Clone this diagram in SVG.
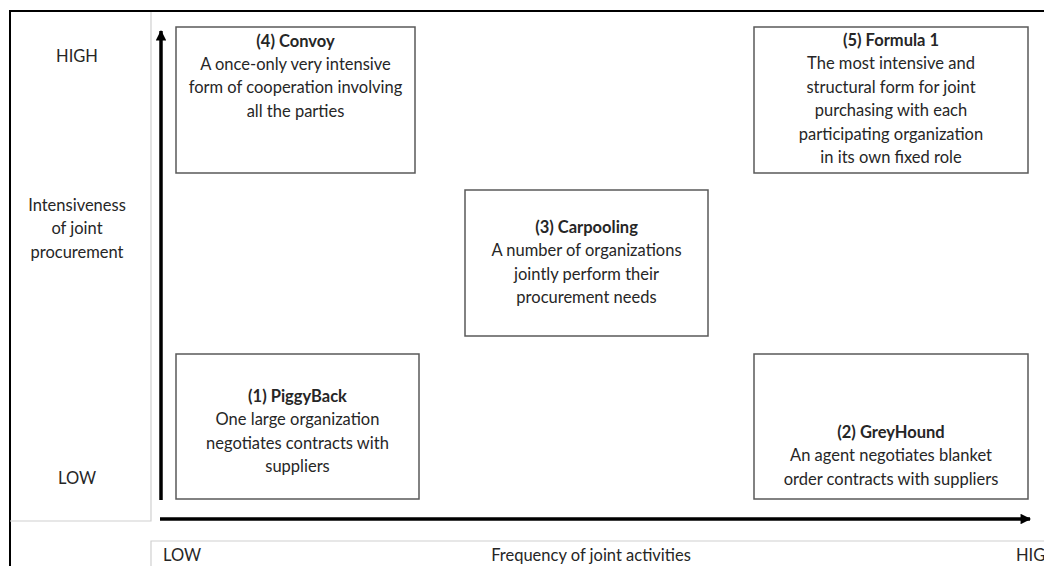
<svg xmlns="http://www.w3.org/2000/svg" width="1044" height="566" viewBox="0 0 1044 566">
<style>
text{font-family:Lato,"Open Sans","Liberation Sans",sans-serif;font-size:16.5px;fill:#262626}
.c{text-anchor:middle}
.b{font-weight:bold}
.box{fill:#fff;stroke:#595959;stroke-width:1.5}
.frame{stroke:#000;stroke-width:2;fill:none}
.thin{stroke:#d0d0d0;stroke-width:1.2;fill:none}
.axis{stroke:#000;stroke-width:3.5;fill:none}
</style>
<defs>
<marker id="ah" viewBox="0 0 10 10" refX="9" refY="5" markerWidth="3.6" markerHeight="3" orient="auto" markerUnits="strokeWidth">
<path d="M0,0 L10,5 L0,10 z" fill="#000"/>
</marker>
</defs>
<rect width="1044" height="566" fill="#fff"/>
<g id="frame">
<path class="frame" d="M9,11 H1044 M10,11 V566"/>
<path class="thin" d="M151,12 V521 H10"/>
<path class="thin" d="M151,566 V541 H1044"/>
</g>
<g id="connectors">
<path class="axis" d="M161,500 V31" marker-end="url(#ah)"/>
<path class="axis" d="M160,519 H1030" marker-end="url(#ah)"/>
</g>
<g id="y-labels">
<text class="c" x="77" y="62">HIGH</text>
<text class="c" x="77" y="211">Intensiveness</text>
<text class="c" x="77" y="234">of joint</text>
<text class="c" x="77" y="258">procurement</text>
<text class="c" x="77" y="484">LOW</text>
</g>
<g id="x-labels">
<text x="163" y="561">LOW</text>
<text class="c" x="591" y="561">Frequency of joint activities</text>
<text x="1016" y="561">HIGH</text>
</g>
<g id="n4">
<rect class="box" x="176" y="27" width="239" height="146"/>
<text class="c b" x="295.5" y="47">(4) Convoy</text>
<text class="c" x="295.5" y="70">A once-only very intensive</text>
<text class="c" x="295.5" y="93">form of cooperation involving</text>
<text class="c" x="295.5" y="117">all the parties</text>
</g>
<g id="n5">
<rect class="box" x="754" y="27" width="274" height="146"/>
<text class="c b" x="891" y="46">(5) Formula 1</text>
<text class="c" x="891" y="69">The most intensive and</text>
<text class="c" x="891" y="93">structural form for joint</text>
<text class="c" x="891" y="116">purchasing with each</text>
<text class="c" x="891" y="140">participating organization</text>
<text class="c" x="891" y="163">in its own fixed role</text>
</g>
<g id="n3">
<rect class="box" x="465" y="190" width="243" height="146"/>
<text class="c b" x="586.5" y="233">(3) Carpooling</text>
<text class="c" x="586.5" y="256">A number of organizations</text>
<text class="c" x="586.5" y="280">jointly perform their</text>
<text class="c" x="586.5" y="303">procurement needs</text>
</g>
<g id="n1">
<rect class="box" x="176" y="354" width="243" height="145"/>
<text class="c b" x="297.5" y="402">(1) PiggyBack</text>
<text class="c" x="297.5" y="425">One large organization</text>
<text class="c" x="297.5" y="449">negotiates contracts with</text>
<text class="c" x="297.5" y="472">suppliers</text>
</g>
<g id="n2">
<rect class="box" x="754" y="354" width="274" height="145"/>
<text class="c b" x="891" y="438">(2) GreyHound</text>
<text class="c" x="891" y="461">An agent negotiates blanket</text>
<text class="c" x="891" y="485">order contracts with suppliers</text>
</g>
</svg>
